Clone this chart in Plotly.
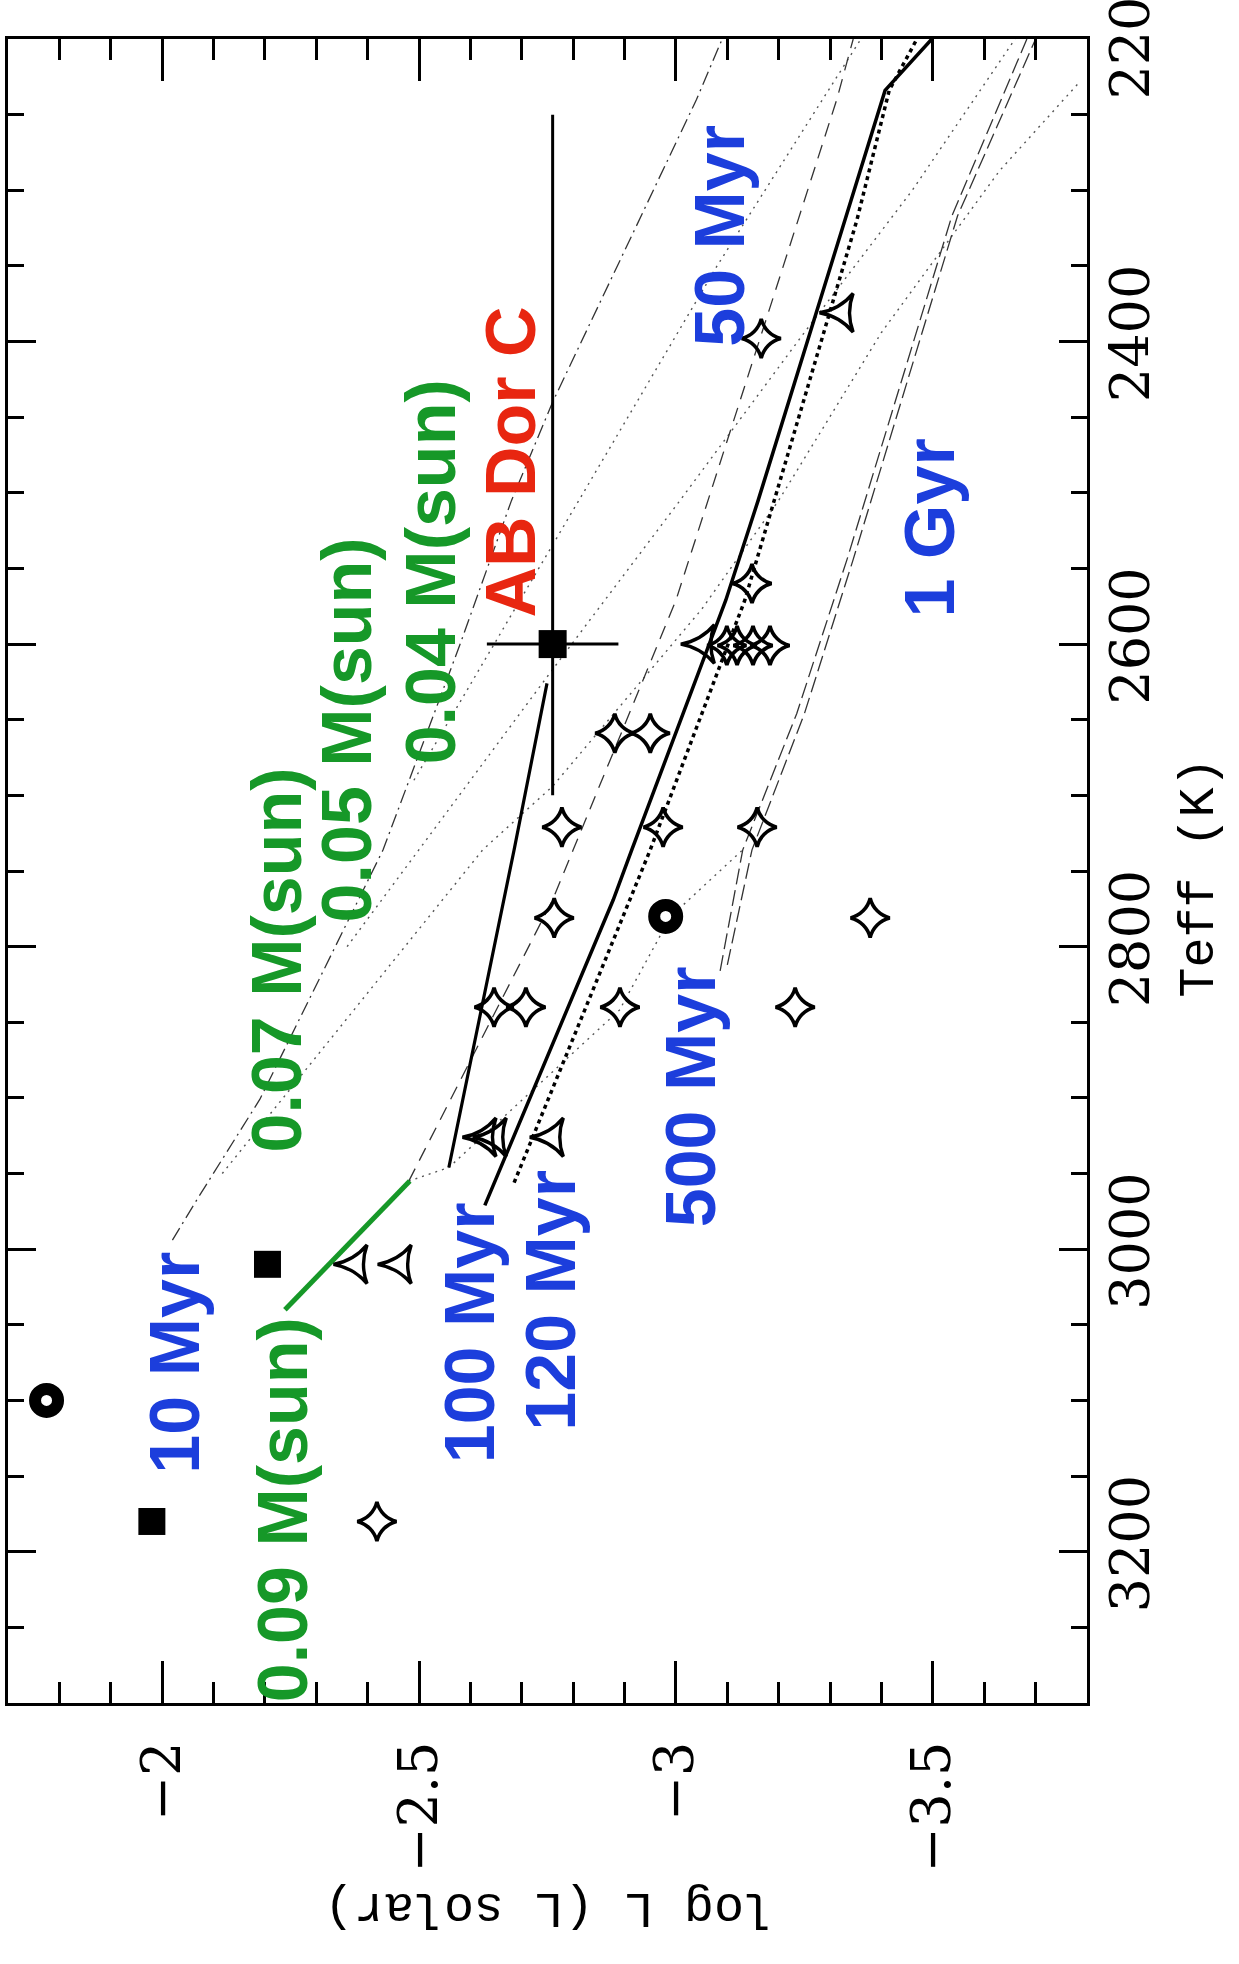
import plotly.graph_objects as go

# ---------------- data (Teff in K, log L in L_sun) ----------------
iso10_teff = [2994, 2966, 2901, 2736, 2600, 2505, 2440, 2240, 2200]
iso10_logl = [-2.02, -2.07, -2.19, -2.43, -2.58, -2.68, -2.76, -3.04, -3.09]

iso50_teff = [2955, 2769, 2736, 2571, 2460, 2240, 2200]
iso50_logl = [-2.48, -2.76, -2.80, -3.00, -3.105, -3.313, -3.345]

iso100_teff = [2971, 2769, 2736, 2571, 2505, 2320, 2234, 2200]
iso100_logl = [-2.628, -2.878, -2.914, -3.097, -3.16, -3.329, -3.407, -3.498]

iso120_teff = [2956, 2736, 2571, 2320, 2234, 2200]
iso120_logl = [-2.685, -2.95, -3.134, -3.352, -3.415, -3.469]

iso500_teff = [2816, 2736, 2646, 2544, 2317, 2200]
iso500_logl = [-3.086, -3.13, -3.235, -3.333, -3.537, -3.683]

iso1g_teff = [2812, 2736, 2646, 2544, 2317, 2200]
iso1g_logl = [-3.10, -3.148, -3.25, -3.345, -3.548, -3.70]

short_teff = [2946, 2736, 2626]
short_logl = [-2.558, -2.685, -2.749]

green_teff = [3040, 2955]
green_logl = [-2.239, -2.482]

trk009_teff = [2955, 2946, 2842, 2780, 2736]
trk009_logl = [-2.48, -2.558, -2.89, -2.99, -3.13]

trk007_teff = [2950, 2736, 2694, 2577, 2505, 2394, 2287, 2229]
trk007_logl = [-2.117, -2.624, -2.76, -3.05, -3.2, -3.40, -3.63, -3.784]

trk005_teff = [2800, 2619, 2505, 2394, 2300, 2200]
trk005_logl = [-2.36, -2.755, -3.008, -3.25, -3.46, -3.66]

trk004_teff = [2690, 2500, 2350, 2200]
trk004_logl = [-2.49, -2.82, -3.08, -3.36]

square_teff = [3180, 3010]
square_logl = [-1.98, -2.205]

abdor_teff = [2600]
abdor_logl = [-2.76]
abdor_logl_err = [0.128]
abdor_teff_err_plus = [100]
abdor_teff_err_minus = [350]

gear_teff = [3100, 2780]
gear_logl = [-1.775, -2.98]

star_teff = [3180, 2840, 2840, 2840, 2840, 2781, 2721, 2721, 2721, 2659, 2659,
             2601, 2601, 2601, 2601, 2560, 2398, 2781]
star_logl = [-2.418, -2.646, -2.708, -2.891, -3.232, -2.763, -2.778, -2.975, -3.158,
             -2.881, -2.95, -3.099, -3.119, -3.15, -3.183, -3.148, -3.166, -3.378]

tri_teff = [3010, 3010, 2926, 2926, 2926, 2600, 2381]
tri_logl = [-2.377, -2.463, -2.628, -2.648, -2.759, -3.053, -3.323]

label_text = ["10 Myr", "0.09 M(sun)", "0.07 M(sun)", "0.05 M(sun)", "0.04 M(sun)",
              "AB Dor C", "50 Myr", "1 Gyr", "100 Myr", "120 Myr", "500 Myr"]
label_teff = [3075, 3172, 2809, 2657, 2552, 2480, 2330, 2523, 3055, 3034, 2899]
label_logl = [-2.025, -2.235, -2.224, -2.36, -2.525, -2.679, -3.086, -3.494, -2.599, -2.757, -3.031]

teff_ticks = [2200, 2400, 2600, 2800, 3000, 3200]
logl_ticks = [-2, -2.5, -3, -3.5]
logl_ticktext = ["\u22122", "\u22122.5", "\u22123", "\u22123.5"]

# ---------------- styles ----------------
BLUE = "rgb(28,62,220)"
GREEN = "rgb(22,152,40)"
RED = "rgb(232,38,16)"
label_color = [BLUE, GREEN, GREEN, GREEN, GREEN, RED, BLUE, BLUE, BLUE, BLUE, BLUE]

fig = go.Figure()

def line(x, y, color, width, dash):
    fig.add_trace(go.Scatter(x=x, y=y, mode="lines", showlegend=False, hoverinfo="skip",
                             line=dict(color=color, width=width, dash=dash)))

# mass tracks (thin dotted)
for tx, ty in [(trk009_logl, trk009_teff), (trk007_logl, trk007_teff),
               (trk005_logl, trk005_teff), (trk004_logl, trk004_teff)]:
    line(tx, ty, "#555555", 1.4, "2px,5px")

# isochrones
line(iso10_logl, iso10_teff, "#333333", 1.3, "14px,5px,2px,5px")
line(iso50_logl, iso50_teff, "#333333", 1.3, "14px,9px")
line(iso500_logl, iso500_teff, "#333333", 1.3, "16px,6px")
line(iso1g_logl, iso1g_teff, "#333333", 1.3, "16px,6px")
line(iso100_logl, iso100_teff, "black", 3.5, "solid")
line(iso120_logl, iso120_teff, "black", 3.5, "4px,4px")
line(short_logl, short_teff, "black", 3.2, "solid")
line(green_logl, green_teff, GREEN, 5, "solid")

# markers
fig.add_trace(go.Scatter(x=star_logl, y=star_teff, mode="markers", showlegend=False,
                         marker=dict(symbol="star-diamond-open", size=28, color="black",
                                     line=dict(color="black", width=3.6))))
fig.add_trace(go.Scatter(x=tri_logl, y=tri_teff, mode="markers", showlegend=False,
                         marker=dict(symbol="star-triangle-up-open", size=28, color="black", angle=-90,
                                     line=dict(color="black", width=3.4))))
fig.add_trace(go.Scatter(x=gear_logl, y=gear_teff, mode="markers", showlegend=False,
                         marker=dict(symbol="circle", size=23, color="white",
                                     line=dict(color="black", width=12))))
fig.add_trace(go.Scatter(x=square_logl, y=square_teff, mode="markers", showlegend=False,
                         marker=dict(symbol="square", size=27, color="black")))
fig.add_trace(go.Scatter(x=abdor_logl, y=abdor_teff, mode="markers", showlegend=False,
                         marker=dict(symbol="square", size=28, color="black"),
                         error_x=dict(type="data", array=abdor_logl_err, color="black", thickness=3, width=0),
                         error_y=dict(type="data", symmetric=False, array=abdor_teff_err_plus,
                                      arrayminus=abdor_teff_err_minus, color="black", thickness=3, width=0)))
# empty trace to activate mirror axes
fig.add_trace(go.Scatter(x=[None], y=[None], xaxis="x2", yaxis="y2", showlegend=False, hoverinfo="skip"))

for t, ty, lx, c in zip(label_text, label_teff, label_logl, label_color):
    fig.add_annotation(x=lx, y=ty, xref="x", yref="y", text=t, showarrow=False, textangle=-90,
                       font=dict(family="Liberation Sans", size=70, color=c, weight="bold"))

TICKFONT = dict(family="DejaVu Serif", size=54, color="black")
XR = [-1.7, -3.8]
YR = [3300, 2200]
xminor = dict(dtick=0.1, tick0=-2, ticks="inside", ticklen=21, tickwidth=3, tickcolor="black", showgrid=False)
yminor = dict(dtick=50, tick0=2200, ticks="inside", ticklen=16, tickwidth=3, tickcolor="black", showgrid=False)

fig.update_layout(
    width=1239, height=1964,
    margin=dict(l=8, r=152, t=39, b=261, autoexpand=False),
    paper_bgcolor="white", plot_bgcolor="white",
    showlegend=False,
    xaxis=dict(range=XR, autorange=False, automargin=False, showline=True, linecolor="black", linewidth=3,
               mirror=True, ticks="inside", ticklen=42, tickwidth=3, tickcolor="black",
               tickmode="array", tickvals=logl_ticks, ticktext=logl_ticktext, tickangle=-90,
               tickfont=TICKFONT, ticklabelstandoff=14, ticklabeloverflow="allow",
               showgrid=False, zeroline=False, minor=xminor),
    xaxis2=dict(range=XR, autorange=False, automargin=False, overlaying="x", side="top", anchor="y",
                ticks="inside", ticklen=42, tickwidth=3, tickcolor="black",
                tickmode="array", tickvals=logl_ticks, showticklabels=False,
                showgrid=False, zeroline=False, minor=xminor),
    yaxis=dict(range=YR, autorange=False, automargin=False, side="right", showline=True, linecolor="black",
               linewidth=3, mirror=True, ticks="inside", ticklen=28, tickwidth=3, tickcolor="black",
               tickmode="array", tickvals=teff_ticks, ticktext=[str(v) for v in teff_ticks], tickangle=-90,
               tickfont=TICKFONT, ticklabelstandoff=-6, ticklabeloverflow="allow",
               showgrid=False, zeroline=False, minor=yminor),
    yaxis2=dict(range=YR, autorange=False, automargin=False, overlaying="y", side="left", anchor="x",
                ticks="inside", ticklen=28, tickwidth=3, tickcolor="black",
                tickmode="array", tickvals=teff_ticks, showticklabels=False,
                showgrid=False, zeroline=False, minor=yminor),
)

TITLEFONT = dict(family="Liberation Mono", size=50, color="black")
fig.add_annotation(x=(1230 - 8) / 1079, y=1 - (878 - 39) / 1664, xref="paper", yref="paper",
                   text="Teff (K)", showarrow=False, textangle=-90, font=TITLEFONT)
fig.add_annotation(x=(549 - 8) / 1079, y=1 - (1938 - 39) / 1664, xref="paper", yref="paper",
                   text="log L (L solar)", showarrow=False, textangle=180, font=TITLEFONT)

fig.write_html("out.html")
